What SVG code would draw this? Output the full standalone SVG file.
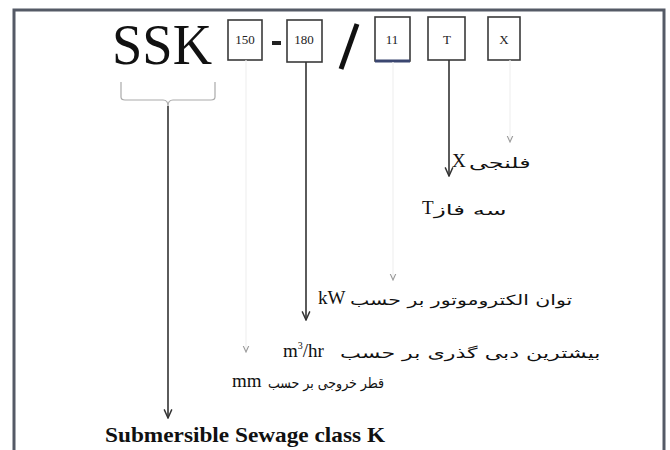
<svg xmlns="http://www.w3.org/2000/svg" width="670" height="450" viewBox="0 0 670 450">
<style>
.bx{fill:#fff;stroke:#3a3a3a;stroke-width:1.6}
.bt{font-family:"Liberation Serif",serif;font-size:13px;fill:#222;text-anchor:middle}
.ar{stroke:#333;stroke-width:1.6;fill:none}
.fa{stroke:#f0f0f0;stroke-width:1.2;fill:none}
.u{font-family:"Liberation Serif",serif;font-size:19px;fill:#111}
.fa-t{font-family:"DejaVu Sans",sans-serif;font-size:14px;fill:#111}
</style>
<defs>
<marker id="ah" viewBox="0 0 10 10" refX="9" refY="5" markerWidth="6" markerHeight="6" orient="auto"><path d="M0,1 L9,5 L0,9" fill="none" stroke="#333" stroke-width="1.5"/></marker>
<marker id="ahf" viewBox="0 0 10 10" refX="9" refY="5" markerWidth="6" markerHeight="6" orient="auto"><path d="M0,1 L9,5 L0,9" fill="none" stroke="#999" stroke-width="1.5"/></marker>
</defs>
<rect width="670" height="450" fill="#fff"/>
<rect x="14" y="10" width="650" height="460" fill="none" stroke="#555a66" stroke-width="3"/>

<g id="code">
<text x="112" y="64" font-family="Liberation Serif,serif" font-size="58" textLength="100" lengthAdjust="spacingAndGlyphs" fill="#111">SSK</text>
<path d="M121,82 V97 Q121,100 125,100 H163 Q168,100 168,106 Q168,100 173,100 H211 Q215,100 215,97 V82" fill="none" stroke="#aaa" stroke-width="1.2"/>
</g>
<g id="box150"><rect class="bx" x="228" y="20" width="34" height="40"/><text class="bt" x="245" y="44" font-size="11">150</text></g>
<g id="dash"><rect x="272" y="41" width="9" height="4" fill="#222"/></g>
<g id="box180"><rect class="bx" x="287" y="20" width="35" height="42"/><text class="bt" x="304" y="44" font-size="11">180</text></g>
<g id="slash"><line x1="341" y1="69" x2="357" y2="24" stroke="#111" stroke-width="5"/></g>
<g id="box11"><rect class="bx" x="375" y="17" width="35" height="44" stroke="#3b4670"/><line x1="375" y1="61" x2="410" y2="61" stroke="#3b4670" stroke-width="3"/><text class="bt" x="392" y="44">11</text></g>
<g id="boxT"><rect class="bx" x="428" y="17" width="37" height="43"/><text class="bt" x="447" y="44">T</text></g>
<g id="boxX"><rect class="bx" x="488" y="17" width="32" height="43"/><text class="bt" x="504" y="44">X</text></g>

<g id="connectors">
<line class="ar" x1="168" y1="106" x2="168" y2="418" marker-end="url(#ah)"/>
<line class="ar" x1="306" y1="62" x2="306" y2="320" marker-end="url(#ah)"/>
<line class="ar" x1="449" y1="60" x2="449" y2="176" marker-end="url(#ah)"/>
<line class="fa" x1="510" y1="60" x2="510" y2="142" marker-end="url(#ahf)"/>
<line class="fa" x1="393" y1="62" x2="393" y2="280" marker-end="url(#ahf)"/>
<line class="fa" x1="246" y1="60" x2="246" y2="352" marker-end="url(#ahf)"/>
</g>

<g id="labelX"><text class="u" x="452" y="167" font-size="17">X</text><text class="fa-t" transform="translate(469,168) scale(1.7,1)">فلنجی</text></g>
<g id="labelT"><text class="u" x="422" y="214" font-size="16">T</text><text class="fa-t" transform="translate(434,215) scale(1.75,1)">سه فاز</text></g>
<g id="labelkW"><text class="u" x="318" y="304">kW</text><text class="fa-t" transform="translate(350,305) scale(1.46,1)">توان الکتروموتور بر حسب</text></g>
<g id="labelQ"><text class="u" x="283" y="357">m<tspan dy="-8" font-size="10">3</tspan><tspan dy="8">/hr</tspan></text><text class="fa-t" transform="translate(340,358) scale(1.58,1)">بیشترین دبی گذری بر حسب</text></g>
<g id="labelmm"><text class="u" x="232" y="387">mm</text><text class="fa-t" transform="translate(268,388) scale(0.9,1)">قطر خروجی بر حسب</text></g>
<g id="labelK"><text x="105" y="442" font-family="Liberation Serif,serif" font-size="21" font-weight="bold" fill="#111" textLength="280" lengthAdjust="spacingAndGlyphs">Submersible Sewage class K</text></g>
</svg>
